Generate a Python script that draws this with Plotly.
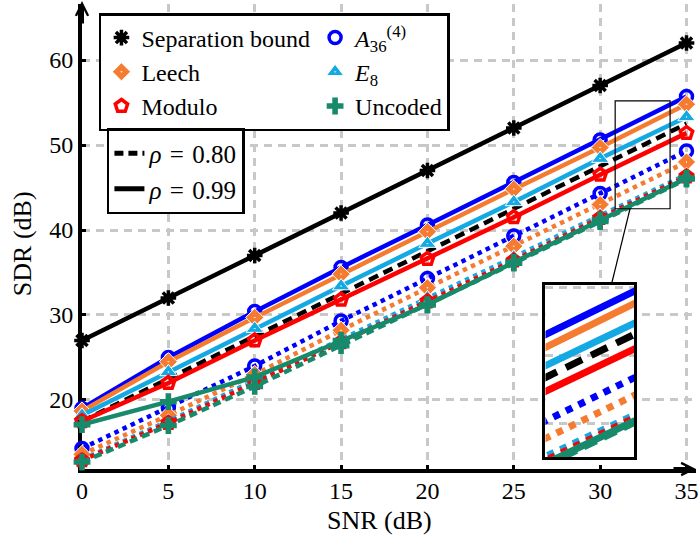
import plotly.graph_objects as go

# ---------------- data ----------------
snr = [0, 5, 10, 15, 20, 25, 30, 35]
sep_99 = [27.0, 32.0, 37.0, 42.0, 47.0, 52.0, 57.0, 62.0]
sep_80 = [17.5, 22.5, 27.5, 32.5, 37.5, 42.5, 47.5, 52.5]
a36_99 = [19.0, 25.0, 30.4, 35.6, 40.6, 45.6, 50.6, 55.7]
a36_80 = [14.3, 19.1, 24.0, 29.3, 34.3, 39.3, 44.3, 49.3]
leech_99 = [18.7, 24.5, 29.7, 34.8, 39.8, 44.8, 49.7, 54.8]
leech_80 = [13.6, 18.2, 23.0, 28.2, 33.2, 38.1, 43.0, 48.0]
e8_99 = [18.2, 23.3, 28.4, 33.4, 38.4, 43.3, 48.4, 53.3]
e8_80 = [13.0, 17.5, 22.3, 27.1, 32.0, 36.8, 41.7, 46.5]
mod_99 = [17.5, 22.0, 27.0, 31.8, 36.6, 41.5, 46.5, 51.4]
mod_80 = [12.9, 17.3, 22.0, 26.8, 31.6, 36.4, 41.4, 46.3]
unc_99 = [17.1, 19.8, 22.7, 27.0, 31.2, 36.2, 41.2, 46.1]
unc_80 = [12.7, 17.0, 21.6, 26.4, 31.2, 36.1, 41.0, 46.0]

x_ticks = [0, 5, 10, 15, 20, 25, 30, 35]
y_ticks = [20, 30, 40, 50, 60]

names = ["Separation bound", "<i>A</i><sub>36</sub><sup>(4)</sup>", "Leech",
         "<i>E</i><sub>8</sub>", "Modulo", "Uncoded"]
rho_labels = ["<i>ρ</i>\u2004=\u20040.80", "<i>ρ</i>\u2004=\u20040.99"]

# ---------------- styles ----------------
FONT = "Liberation Serif, Times New Roman, serif"
BLUE, ORANGE, LBLUE, RED, GREEN, BLACK = "#0000FF", "#F47B30", "#14A9E3", "#FF0000", "#178A6C", "#000000"

W, H = 699, 538
ML, MR, MT, MB = 82, 1, 4, 69
PW, PH = W - ML - MR, H - MT - MB
X_RANGE = [0, 35.55]
Y_RANGE = [11.88, 66.59]
INSET_X = [30.87, 34.05]
INSET_Y = [42.5, 55.2]


def px_to_paper_x(px):
    return (px - ML) / PW


def px_to_paper_y(py):
    return (H - MB - py) / PH


INSET_DOM_X = [px_to_paper_x(547), px_to_paper_x(636)]
INSET_DOM_Y = [px_to_paper_y(457), px_to_paper_y(285)]

DASH_SEP80 = "10px,6px"
DASH_UNC80 = "8px,5px"
LW = 4.5

markers = {
    "sep": dict(symbol="asterisk-open", size=13, color=BLACK, line=dict(color=BLACK, width=3.5)),
    "a36": dict(symbol="circle-open", size=12, color=BLUE, line=dict(color=BLUE, width=3.5)),
    "leech": dict(symbol="diamond-dot", size=14, color=ORANGE, line=dict(color="white", width=1)),
    "e8": dict(symbol="triangle-up-dot", size=15, color=LBLUE, line=dict(color="white", width=1)),
    "mod": dict(symbol="pentagon-open", size=13, color=RED, line=dict(color=RED, width=3.5)),
    "unc": dict(symbol="cross", size=14, color=GREEN, line=dict(color=GREEN, width=0)),
}

# (key, y, color, dash, has_markers)
series = [
    ("sep", sep_99, BLACK, "solid", True),
    ("sep", sep_80, BLACK, DASH_SEP80, False),
    ("a36", a36_99, BLUE, "solid", True),
    ("a36", a36_80, BLUE, "dot", True),
    ("leech", leech_99, ORANGE, "solid", True),
    ("leech", leech_80, ORANGE, "dot", True),
    ("e8", e8_99, LBLUE, "solid", True),
    ("e8", e8_80, LBLUE, "dot", True),
    ("mod", mod_99, RED, "solid", True),
    ("mod", mod_80, RED, "dot", True),
    ("unc", unc_99, GREEN, "solid", True),
    ("unc", unc_80, GREEN, DASH_UNC80, True),
]

fig = go.Figure()

# main plot traces
for key, y, col, dash, mk in series:
    fig.add_trace(go.Scatter(
        x=snr, y=y, mode="lines+markers" if mk else "lines",
        line=dict(color=col, width=LW, dash=dash),
        marker=markers[key], showlegend=False, cliponaxis=False,
        xaxis="x", yaxis="y", hoverinfo="skip"))

# inset traces (same data, zoomed)
for key, y, col, dash, mk in series:
    if dash == DASH_SEP80:
        d = "18px,10px"
    elif dash == DASH_UNC80:
        d = "14px,8px"
    else:
        d = dash
    fig.add_trace(go.Scatter(
        x=snr, y=y, mode="lines",
        line=dict(color=col, width=7, dash=d),
        showlegend=False, xaxis="x2", yaxis="y2", hoverinfo="skip"))

# legend 1 (markers)
for key, nm in zip(["sep", "a36", "leech", "e8", "mod", "unc"], names):
    fig.add_trace(go.Scatter(
        x=[None], y=[None], mode="markers", marker=markers[key],
        name=nm, legend="legend", showlegend=True))

# legend 2 (line styles)
for i, (lab, dsh) in enumerate(zip(rho_labels, ["9px,5px", "solid"])):
    fig.add_trace(go.Scatter(
        x=[None], y=[None], mode="lines", line=dict(color=BLACK, width=5, dash=dsh),
        name=lab, legend="legend2", legendgroup=f"g{i}", showlegend=True))

axis_common = dict(
    showline=True, linecolor=BLACK, linewidth=4, zeroline=False,
    showgrid=True, gridcolor="#c8c8c8", gridwidth=2.5, griddash="8px,6px",
    ticks="inside", ticklen=4, tickwidth=3, tickcolor=BLACK,
    tickfont=dict(family=FONT, size=24, color=BLACK), layer="below traces",
    ticklabeloverflow="allow",
)

# connector line geometry (from small rectangle bottom to inset top)
conn_main_x = 31.73
conn_inset_x = 33.23
cx0 = (conn_main_x - X_RANGE[0]) / (X_RANGE[1] - X_RANGE[0])
cy0 = (INSET_Y[0] - Y_RANGE[0]) / (Y_RANGE[1] - Y_RANGE[0])
cx1 = INSET_DOM_X[0] + (conn_inset_x - INSET_X[0]) / (INSET_X[1] - INSET_X[0]) * (INSET_DOM_X[1] - INSET_DOM_X[0])
cy1 = INSET_DOM_Y[1]

fig.update_layout(
    width=W, height=H,
    margin=dict(l=ML, r=MR, t=MT, b=MB),
    paper_bgcolor="white", plot_bgcolor="white",
    font=dict(family=FONT, color=BLACK),
    xaxis=dict(range=X_RANGE, tickvals=x_ticks, ticklabelstandoff=-3, **axis_common),
    yaxis=dict(range=Y_RANGE, tickvals=y_ticks, **axis_common),
    xaxis2=dict(domain=INSET_DOM_X, range=INSET_X, anchor="y2", showline=True, mirror=True,
                linecolor=BLACK, linewidth=2.5, showticklabels=False, ticks="", showgrid=True,
                gridcolor="#c8c8c8", gridwidth=2.5, griddash="8px,6px", dtick=5, zeroline=False),
    yaxis2=dict(domain=INSET_DOM_Y, range=INSET_Y, anchor="x2", showline=True, mirror=True,
                linecolor=BLACK, linewidth=2.5, showticklabels=False, ticks="", showgrid=True,
                gridcolor="#c8c8c8", gridwidth=2.5, griddash="8px,6px", dtick=5, zeroline=False),
    legend=dict(orientation="h", x=px_to_paper_x(99), y=px_to_paper_y(13), xanchor="left", yanchor="top",
                font=dict(family=FONT, size=24, color=BLACK), bgcolor="white",
                bordercolor=BLACK, borderwidth=2.5, tracegroupgap=0),
    legend2=dict(orientation="v", x=px_to_paper_x(107), y=px_to_paper_y(128), xanchor="left", yanchor="top",
                 font=dict(family=FONT, size=25, color=BLACK), bgcolor="white",
                 bordercolor=BLACK, borderwidth=2.5, tracegroupgap=0),
    shapes=[
        dict(type="rect", xref="x", yref="y", x0=INSET_X[0], x1=INSET_X[1], y0=INSET_Y[0], y1=INSET_Y[1],
             line=dict(color=BLACK, width=1.2), layer="above"),
        dict(type="line", xref="paper", yref="paper", x0=cx0, y0=cy0, x1=cx1, y1=cy1,
             line=dict(color=BLACK, width=1.2), layer="above"),
    ],
    annotations=[
        dict(x=0, y=1 + 3 / PH, xref="x", yref="paper", ax=0, ay=24, axref="pixel", ayref="pixel",
             showarrow=True, arrowhead=5, arrowsize=0.6, arrowwidth=4, arrowcolor=BLACK, text=""),
        dict(x=1, y=Y_RANGE[0], xref="paper", yref="y", ax=-24, ay=0, axref="pixel", ayref="pixel",
             showarrow=True, arrowhead=5, arrowsize=0.6, arrowwidth=4, arrowcolor=BLACK, text=""),
        dict(x=px_to_paper_x(22), y=px_to_paper_y(244), xref="paper", yref="paper", text="SDR (dB)",
             textangle=-90, showarrow=False, font=dict(family=FONT, size=26, color=BLACK),
             xanchor="center", yanchor="middle"),
        dict(x=px_to_paper_x(380), y=px_to_paper_y(520), xref="paper", yref="paper", text="SNR (dB)",
             showarrow=False, font=dict(family=FONT, size=26, color=BLACK),
             xanchor="center", yanchor="middle"),
    ],
)

fig.write_html("out.html", config={"displayModeBar": False},
               post_script="document.body.style.margin='0';document.body.style.overflow='hidden';")
